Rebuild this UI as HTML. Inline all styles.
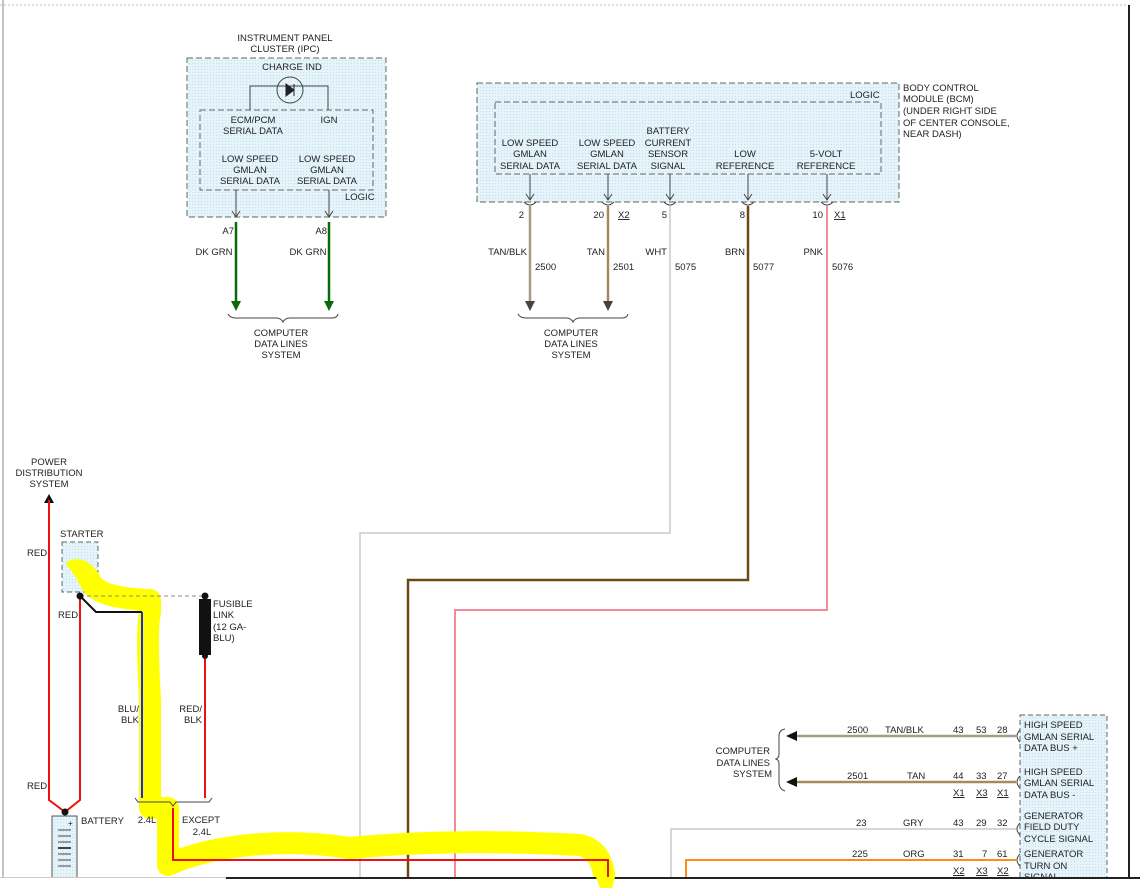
<!DOCTYPE html>
<html><head><meta charset="utf-8"><style>
body{margin:0;background:#fff;}
svg{display:block;font-family:"Liberation Sans",sans-serif;font-size:9.5px;fill:#222;}
</style></head><body>
<svg width="1140" height="888" viewBox="0 0 1140 888" xmlns="http://www.w3.org/2000/svg">
<defs>
<pattern id="dots" width="3" height="3" patternUnits="userSpaceOnUse"><rect width="3" height="3" fill="#e4f4fa"/><rect width="1" height="1" fill="#c8dfe8"/></pattern>
</defs>
<line x1="3" y1="0" x2="3" y2="880" stroke="#888" stroke-width="1"/>
<line x1="0" y1="5" x2="1129" y2="5" stroke="#bbb" stroke-dasharray="2,2"/>
<line x1="1129" y1="5" x2="1129" y2="877" stroke="#222" stroke-width="2"/>

<!-- IPC -->
<text x="285" y="41" text-anchor="middle">INSTRUMENT PANEL</text>
<text x="285" y="52" text-anchor="middle">CLUSTER (IPC)</text>
<rect x="187" y="58" width="199" height="159" fill="url(#dots)" stroke="#666" stroke-dasharray="6,3"/>
<rect x="200" y="110" width="173" height="80" fill="none" stroke="#666" stroke-dasharray="6,3"/>
<text x="292" y="70" text-anchor="middle">CHARGE IND</text>
<circle cx="290" cy="90" r="13" fill="none" stroke="#444"/>
<polyline points="250,110 250,86 328,86 328,110" fill="none" stroke="#444"/>
<path d="M286,84 L294,90 L286,96Z M294,84 L294,96" fill="#222" stroke="#222"/>
<text x="253" y="123" text-anchor="middle">ECM/PCM</text><text x="253" y="134" text-anchor="middle">SERIAL DATA</text>
<text x="329" y="123" text-anchor="middle">IGN</text>
<text x="250" y="162" text-anchor="middle">LOW SPEED</text><text x="250" y="173" text-anchor="middle">GMLAN</text><text x="250" y="184" text-anchor="middle">SERIAL DATA</text>
<text x="327" y="162" text-anchor="middle">LOW SPEED</text><text x="327" y="173" text-anchor="middle">GMLAN</text><text x="327" y="184" text-anchor="middle">SERIAL DATA</text>
<text x="345" y="200">LOGIC</text>
<g stroke="#444" fill="none"><path d="M236,190V217M232,211L236,217L240,211M329,190V217M325,211L329,217L333,211"/></g>
<text x="234" y="234" text-anchor="end">A7</text><text x="327" y="234" text-anchor="end">A8</text>
<g stroke="#0a6a0a" stroke-width="2.5"><line x1="236" y1="222" x2="236" y2="303"/><line x1="329" y1="222" x2="329" y2="303"/></g>
<path d="M231,301L236,311L241,301Z M324,301L329,311L334,301Z" fill="#0a6a0a"/>
<text x="214" y="255" text-anchor="middle">DK GRN</text><text x="308" y="255" text-anchor="middle">DK GRN</text>
<path d="M228,314 Q230,318 236,318 L276,318 Q281,318 283,322 Q285,318 290,318 L332,318 Q337,318 338,314" fill="none" stroke="#444"/>
<text x="281" y="336" text-anchor="middle">COMPUTER</text><text x="281" y="347" text-anchor="middle">DATA LINES</text><text x="281" y="358" text-anchor="middle">SYSTEM</text>

<!-- BCM -->
<rect x="477" y="83" width="422" height="119" fill="url(#dots)" stroke="#666" stroke-dasharray="6,3"/>
<rect x="495" y="102" width="386" height="72" fill="none" stroke="#666" stroke-dasharray="6,3"/>
<text x="850" y="98">LOGIC</text>
<text x="903" y="91">BODY CONTROL</text><text x="903" y="102">MODULE (BCM)</text><text x="903" y="114">(UNDER RIGHT SIDE</text><text x="903" y="126">OF CENTER CONSOLE,</text><text x="903" y="137">NEAR DASH)</text>
<g text-anchor="middle">
<text x="530" y="146">LOW SPEED</text><text x="530" y="157">GMLAN</text><text x="530" y="169">SERIAL DATA</text>
<text x="607" y="146">LOW SPEED</text><text x="607" y="157">GMLAN</text><text x="607" y="169">SERIAL DATA</text>
<text x="668" y="134">BATTERY</text><text x="668" y="146">CURRENT</text><text x="668" y="157">SENSOR</text><text x="668" y="169">SIGNAL</text>
<text x="745" y="157">LOW</text><text x="745" y="169">REFERENCE</text>
<text x="826" y="157">5-VOLT</text><text x="826" y="169">REFERENCE</text>
</g>
<g stroke="#444" fill="none">
<path d="M530,174V200M526,194L530,200L534,194M608,174V200M604,194L608,200L612,194M670,174V200M666,194L670,200L674,194M748,174V200M744,194L748,200L752,194M827,174V200M823,194L827,200L831,194"/>
<path d="M524,202q6,6 12,0M602,202q6,6 12,0M664,202q6,6 12,0M742,202q6,6 12,0M821,202q6,6 12,0"/>
</g>
<text x="524" y="218" text-anchor="end">2</text><text x="604" y="218" text-anchor="end">20</text><text x="618" y="218" text-decoration="underline">X2</text>
<text x="667" y="218" text-anchor="end">5</text><text x="745" y="218" text-anchor="end">8</text><text x="823" y="218" text-anchor="end">10</text><text x="834" y="218" text-decoration="underline">X1</text>
<text x="527" y="255" text-anchor="end">TAN/BLK</text><text x="605" y="255" text-anchor="end">TAN</text><text x="667" y="255" text-anchor="end">WHT</text><text x="745" y="255" text-anchor="end">BRN</text><text x="823" y="255" text-anchor="end">PNK</text>
<text x="535" y="270">2500</text><text x="613" y="270">2501</text><text x="675" y="270">5075</text><text x="753" y="270">5077</text><text x="832" y="270">5076</text>
<g fill="none" stroke-width="2.5">
<line x1="530" y1="206" x2="530" y2="303" stroke="#a89c84"/>
<line x1="608" y1="206" x2="608" y2="303" stroke="#a88a5a"/>
<polyline points="670,206 670,533 360,533 360,877" stroke="#d8d8d8" stroke-width="2"/>
<polyline points="748,206 748,580 408,580 408,877" stroke="#6e4a12"/>
<polyline points="827,206 827,610 455,610 455,877" stroke="#f28a9a" stroke-width="2"/>
</g>
<path d="M525,301L530,311L535,301Z" fill="#444"/><path d="M603,301L608,311L613,301Z" fill="#444"/>
<path d="M518,314 Q520,318 526,318 L566,318 Q571,318 573,322 Q575,318 580,318 L622,318 Q627,318 628,314" fill="none" stroke="#444"/>
<text x="571" y="336" text-anchor="middle">COMPUTER</text><text x="571" y="347" text-anchor="middle">DATA LINES</text><text x="571" y="358" text-anchor="middle">SYSTEM</text>

<!-- Left power -->
<text x="49" y="465" text-anchor="middle">POWER</text><text x="49" y="476" text-anchor="middle">DISTRIBUTION</text><text x="49" y="487" text-anchor="middle">SYSTEM</text>
<path d="M44,503L49,494L54,503Z" fill="#111"/>
<text x="27" y="556">RED</text><text x="58" y="618">RED</text><text x="27" y="789">RED</text>
<rect x="62" y="542" width="36" height="50" fill="url(#dots)" stroke="#666" stroke-dasharray="5,3"/>
<text x="60" y="537">STARTER</text>
<!-- yellow highlight -->
<path d="M72,572 Q80,566 90,580 Q95,598 150,600 L150,612 Q146,630 150,700 L150,808 L168,808 L168,865 Q200,850 250,845 Q300,840 350,848 Q450,838 580,845 Q605,850 605,888" fill="none" stroke="#ffff00" stroke-width="22" stroke-linejoin="round"/>
<g fill="none" stroke="#ee1111" stroke-width="2">
<polyline points="49,500 49,800 65,812 80,800 80,596"/>
<line x1="205" y1="655" x2="205" y2="798"/>
<polyline points="173,808 173,860 608,860 608,877"/>
</g>
<line x1="80" y1="596" x2="205" y2="596" stroke="#888" stroke-dasharray="4,3"/>
<polyline points="80,596 96,612 142,612" fill="none" stroke="#111" stroke-width="2"/>
<line x1="142" y1="612" x2="142" y2="798" stroke="#1a2ae8" stroke-width="2"/>
<circle cx="80" cy="596" r="3.5" fill="#111"/><circle cx="205" cy="596" r="3.5" fill="#111"/><circle cx="205" cy="656" r="3" fill="#111"/>
<rect x="199" y="599" width="12" height="56" fill="#111"/>
<text x="213" y="607">FUSIBLE</text><text x="213" y="618">LINK</text><text x="213" y="630">(12 GA-</text><text x="213" y="641">BLU)</text>
<text x="139" y="712" text-anchor="end">BLU/</text><text x="139" y="723" text-anchor="end">BLK</text>
<text x="202" y="712" text-anchor="end">RED/</text><text x="202" y="723" text-anchor="end">BLK</text>
<path d="M135,798 L138,802 L170,802 L173,806 L176,802 L209,802 L212,798" fill="none" stroke="#444"/>
<text x="147" y="823" text-anchor="middle">2.4L</text><text x="182" y="823">EXCEPT</text><text x="202" y="835" text-anchor="middle">2.4L</text>
<circle cx="65" cy="812" r="3.5" fill="#111"/>
<rect x="52" y="816" width="25" height="64" fill="url(#dots)" stroke="#555"/>
<g stroke="#444"><line x1="58" y1="830" x2="71" y2="830"/><line x1="58" y1="836" x2="71" y2="836"/><line x1="58" y1="842" x2="71" y2="842"/><line x1="58" y1="848" x2="71" y2="848" stroke-width="2"/><line x1="58" y1="854" x2="71" y2="854"/><line x1="58" y1="860" x2="71" y2="860"/><line x1="58" y1="866" x2="71" y2="866"/></g>
<text x="68" y="826" font-size="8">+</text>
<text x="81" y="824">BATTERY</text>

<!-- bottom right -->
<g fill="none" stroke-width="2.5">
<line x1="792" y1="736" x2="1016" y2="736" stroke="#a89c84"/>
<line x1="792" y1="782" x2="1016" y2="782" stroke="#a88a5a"/>
<polyline points="1016,829 671,829 671,877" stroke="#c8c8c8" stroke-width="1.5"/>
<polyline points="1016,860 686,860 686,877" stroke="#ff8c1a" stroke-width="2"/>
</g>
<path d="M786,736L797,731L797,741Z M786,782L797,777L797,787Z" fill="#111"/>
<path d="M785,729 Q779,730 779,736 L779,754 Q779,758 776,759 Q779,760 779,764 L779,782 Q779,789 785,791" fill="none" stroke="#444"/>
<text x="770" y="754" text-anchor="end">COMPUTER</text><text x="770" y="766" text-anchor="end">DATA LINES</text><text x="772" y="777" text-anchor="end">SYSTEM</text>
<text x="847" y="733">2500</text><text x="885" y="733">TAN/BLK</text><text x="953" y="733">43</text><text x="976" y="733">53</text><text x="997" y="733">28</text>
<text x="847" y="779">2501</text><text x="907" y="779">TAN</text><text x="953" y="779">44</text><text x="976" y="779">33</text><text x="997" y="779">27</text>
<g text-decoration="underline"><text x="953" y="796">X1</text><text x="976" y="796">X3</text><text x="997" y="796">X1</text><text x="953" y="874">X2</text><text x="976" y="874">X3</text><text x="997" y="874">X2</text></g>
<text x="856" y="826">23</text><text x="903" y="826">GRY</text><text x="953" y="826">43</text><text x="976" y="826">29</text><text x="997" y="826">32</text>
<text x="852" y="857">225</text><text x="903" y="857">ORG</text><text x="953" y="857">31</text><text x="982" y="857">7</text><text x="997" y="857">61</text>
<rect x="1020" y="715" width="87" height="170" fill="url(#dots)" stroke="#666" stroke-dasharray="5,3"/>
<g fill="none" stroke="#444"><path d="M1020,730q-6,6 0,12M1020,776q-6,6 0,12M1020,823q-6,6 0,12M1020,854q-6,6 0,12"/></g>
<text x="1024" y="728">HIGH SPEED</text><text x="1024" y="740">GMLAN SERIAL</text><text x="1024" y="751">DATA BUS +</text>
<text x="1024" y="775">HIGH SPEED</text><text x="1024" y="786">GMLAN SERIAL</text><text x="1024" y="798">DATA BUS -</text>
<text x="1024" y="819">GENERATOR</text><text x="1024" y="830">FIELD DUTY</text><text x="1024" y="842">CYCLE SIGNAL</text>
<text x="1024" y="857">GENERATOR</text><text x="1024" y="869">TURN ON</text><text x="1024" y="880">SIGNAL</text>
<rect x="0" y="877" width="1140" height="11" fill="#fff"/>
<line x1="0" y1="877.5" x2="226" y2="877.5" stroke="#ccc"/>
<line x1="226" y1="878" x2="1140" y2="878" stroke="#222" stroke-width="2"/>
<path d="M596,877 L615,877 L612,888 L600,888Z" fill="#ffff00"/>
</svg>
</body></html>
